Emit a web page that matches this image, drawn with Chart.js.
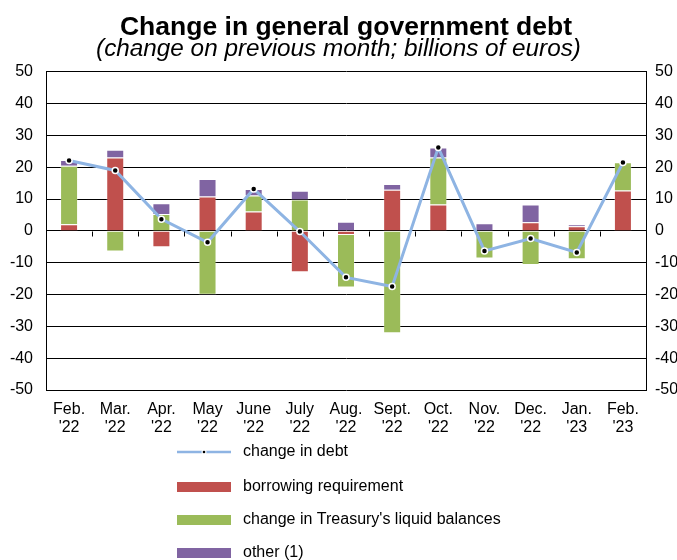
<!DOCTYPE html>
<html>
<head>
<meta charset="utf-8">
<script src="https://cdn.jsdelivr.net/npm/chart.js@4/dist/chart.umd.min.js"></script>
<style>
  html, body { margin: 0; padding: 0; background: #fff; overflow: hidden; }
  #wrap { width: 677px; height: 560px; position: relative; }
</style>
</head>
<body>
<div id="wrap"><canvas id="debtChart"></canvas></div>
<script>
// --- data ---
const months = [["Feb.", "'22"], ["Mar.", "'22"], ["Apr.", "'22"], ["May", "'22"], ["June", "'22"],
    ["July", "'22"], ["Aug.", "'22"], ["Sept.", "'22"], ["Oct.", "'22"], ["Nov.", "'22"],
    ["Dec.", "'22"], ["Jan.", "'23"], ["Feb.", "'23"]];
const borrowing = [2.1, 23.1, -5.1, 10.8, 6.1, -13.0, -1.3, 12.9, 8.3, 0, 2.7, 1.5, 12.7];
const liquidBalances = [18.4, -6.5, 5.3, -20.1, 5.0, 9.9, -16.5, -32.2, 14.8, -8.7, -10.7, -8.9, 8.9];
const other = [1.8, 2.4, 3.4, 5.5, 2.1, 2.7, 2.9, 1.8, 3.1, 2.4, 5.6, 0.6, 0];
const changeInDebt = [22.1, 19.0, 3.7, -3.6, 13.2, -0.2, -14.6, -17.5, 26.2, -6.3, -2.4, -6.8, 21.5];
const yTicks = [50, 40, 30, 20, 10, 0, -10, -20, -30, -40, -50];

const FONT = "'Liberation Sans', Arial, sans-serif";
Chart.defaults.font.family = FONT;
Chart.defaults.color = '#000';

// small tick marks on the zero line between categories
const zeroTicks = {
    id: 'zeroTicks',
    afterDatasetsDraw(chart) {
        const { ctx, scales: { x, y } } = chart;
        const y0 = Math.round(y.getPixelForValue(0)) + 0.5;
        const step = (x.right - x.left) / months.length;
        ctx.save();
        ctx.strokeStyle = '#000';
        ctx.lineWidth = 1;
        ctx.beginPath();
        for (let i = 1; i < months.length; i++) {
            const px = Math.round(x.left + i * step) + 0.5;
            ctx.moveTo(px, y0);
            ctx.lineTo(px, y0 + 5);
        }
        ctx.stroke();
        ctx.restore();
    }
};

// vertical legend below the axis
const sideLegend = {
    id: 'sideLegend',
    afterDraw(chart) {
        const ctx = chart.ctx;
        const order = [3, 0, 1, 2];
        const rowsY = [452, 487, 520, 553];
        ctx.save();
        ctx.font = '16px ' + FONT;
        ctx.textBaseline = 'middle';
        ctx.fillStyle = '#000';
        order.forEach((idx, i) => {
            const ds = chart.data.datasets[idx];
            const cy = rowsY[i];
            if (ds.type === 'line') {
                ctx.strokeStyle = ds.borderColor;
                ctx.lineWidth = 2.5;
                ctx.beginPath();
                ctx.moveTo(177, cy);
                ctx.lineTo(231, cy);
                ctx.stroke();
                ctx.fillStyle = '#fff';
                ctx.beginPath(); ctx.arc(204, cy, 2.5, 0, Math.PI * 2); ctx.fill();
                ctx.fillStyle = '#000';
                ctx.beginPath(); ctx.arc(204, cy, 1.3, 0, Math.PI * 2); ctx.fill();
            } else {
                ctx.fillStyle = ds.backgroundColor;
                ctx.fillRect(177, cy - 5, 54, 10);
            }
            ctx.fillStyle = '#000';
            ctx.fillText(ds.label, 243, cy);
        });
        ctx.restore();
    }
};

new Chart(document.getElementById('debtChart'), {
    data: {
        labels: months,
        datasets: [
            {
                type: 'bar', label: 'borrowing requirement', data: borrowing,
                backgroundColor: '#C0504D', borderColor: 'rgba(255,255,255,0.25)', borderWidth: 1,
                stack: 'bars', order: 1, barPercentage: 0.39, categoryPercentage: 1
            },
            {
                type: 'bar', label: "change in Treasury's liquid balances", data: liquidBalances,
                backgroundColor: '#9BBB59', borderColor: 'rgba(255,255,255,0.25)', borderWidth: 1,
                stack: 'bars', order: 1, barPercentage: 0.39, categoryPercentage: 1
            },
            {
                type: 'bar', label: 'other (1)', data: other,
                backgroundColor: '#8064A2', borderColor: 'rgba(255,255,255,0.25)', borderWidth: 1,
                stack: 'bars', order: 1, barPercentage: 0.39, categoryPercentage: 1
            },
            {
                type: 'line', label: 'change in debt', data: changeInDebt,
                borderColor: '#8EB4E3', borderWidth: 3, tension: 0,
                pointRadius: 3, pointBackgroundColor: '#000', pointBorderColor: '#fff', pointBorderWidth: 1.5,
                stack: 'line', order: 0
            }
        ]
    },
    options: {
        responsive: true,
        maintainAspectRatio: false,
        animation: false,
        layout: { padding: 0 },
        plugins: {
            legend: { display: false },
            tooltip: { enabled: false },
            title: {
                display: true,
                fullSize: false,
                text: 'Change in general government debt',
                font: { size: 26.5, weight: 'bold', lineHeight: 1 },
                padding: { top: 14, bottom: 0 },
                color: '#000'
            },
            subtitle: {
                display: true,
                text: '(change on previous month; billions of euros)',
                font: { size: 24.3, style: 'italic', lineHeight: 1 },
                padding: { top: -3, bottom: 10 },
                color: '#000'
            }
        },
        scales: {
            x: {
                stacked: true,
                grid: { display: false, drawTicks: false },
                border: { display: false },
                ticks: { font: { size: 16, lineHeight: 1.15 }, padding: 10, maxRotation: 0, autoSkip: false },
                afterFit(scale) { scale.height = 170; }
            },
            y: {
                stacked: true,
                position: 'left',
                min: -50, max: 50,
                afterBuildTicks(scale) { scale.ticks = yTicks.map(v => ({ value: v })); },
                grid: { color: '#000', lineWidth: 1, drawTicks: false },
                border: { display: true, color: '#000', width: 1 },
                ticks: { font: { size: 16 }, padding: 13 },
                afterFit(scale) { scale.width = 46; }
            },
            y2: {
                position: 'right',
                min: -50, max: 50,
                afterBuildTicks(scale) { scale.ticks = yTicks.map(v => ({ value: v })); },
                grid: { display: false, drawTicks: false },
                border: { display: true, color: '#000', width: 1 },
                ticks: { font: { size: 16 }, padding: 9 },
                afterFit(scale) { scale.width = 31; }
            }
        }
    },
    plugins: [zeroTicks, sideLegend]
});
</script>
</body>
</html>
